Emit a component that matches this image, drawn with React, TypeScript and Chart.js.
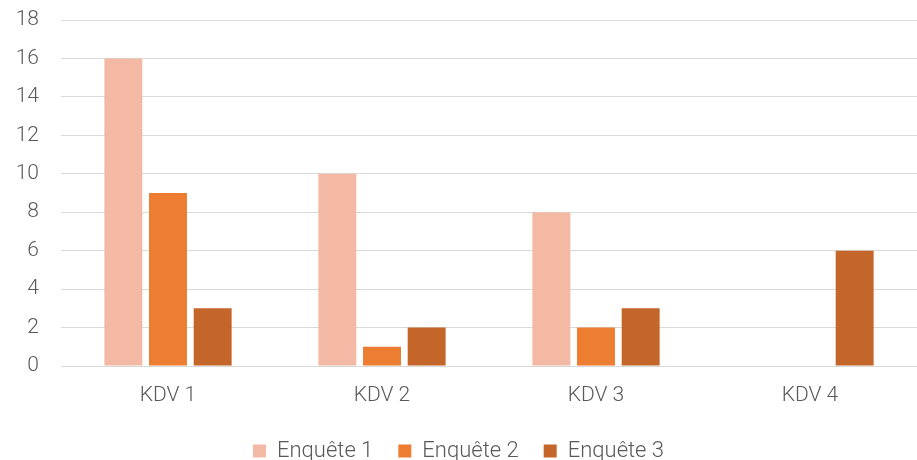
import React, { useEffect, useRef } from "react";
import { Chart, registerables } from "chart.js";

Chart.register(...registerables);

const categories = ["KDV 1", "KDV 2", "KDV 3", "KDV 4"];
const enquete1 = [16, 10, 8, 0];
const enquete2 = [9, 1, 2, 0];
const enquete3 = [3, 2, 3, 6];
const seriesNames = ["Enquête 1", "Enquête 2", "Enquête 3"];
const colors = ["#F4B9A4", "#ED7D31", "#C4652A"];

const FONT = "Roboto, sans-serif";

export default function App() {
  const ref = useRef<HTMLCanvasElement>(null);
  useEffect(() => {
    document.body.style.margin = "0";
    const ctx = ref.current!;
    const chart = new Chart(ctx, {
      type: "bar",
      data: {
        labels: categories,
        datasets: [enquete1, enquete2, enquete3].map((d, i) => ({
          label: seriesNames[i],
          data: d,
          backgroundColor: colors[i],
          borderWidth: 0,
          barPercentage: 0.85,
          categoryPercentage: 0.626,
        })),
      },
      options: {
        animation: false,
        responsive: false,
        maintainAspectRatio: false,
        layout: { padding: { top: 20, right: 0, left: 0, bottom: -12 } },
        plugins: {
          tooltip: { enabled: false },
          legend: {
            position: "bottom",
            labels: {
              font: { family: FONT, size: 22, weight: "300" },
              color: "#595959",
              boxWidth: 13,
              boxHeight: 13,
              padding: 25,
            },
          },
        },
        scales: {
          x: {
            grid: { display: false, drawTicks: false },
            border: { display: true, color: "#d9d9d9", width: 1 },
            ticks: { font: { family: FONT, size: 21, weight: "300" }, color: "#595959", padding: 17 },
            afterFit: (s: any) => { s.height = 49; },
          },
          y: {
            min: 0,
            max: 18,
            ticks: { stepSize: 2, font: { family: FONT, size: 21, weight: "300" }, color: "#595959", padding: 22 },
            grid: { color: "#d9d9d9", lineWidth: 1, drawTicks: false },
            border: { display: false },
            afterFit: (s: any) => { s.width = 61; s.paddingTop = 0; s.paddingBottom = 0; },
          },
        },
      },
    });
    return () => chart.destroy();
  }, []);
  return (
    <div style={{ width: 917, height: 460 }}>
      <canvas ref={ref} width={917} height={460} style={{ width: 917, height: 460, display: "block" }} />
    </div>
  );
}
